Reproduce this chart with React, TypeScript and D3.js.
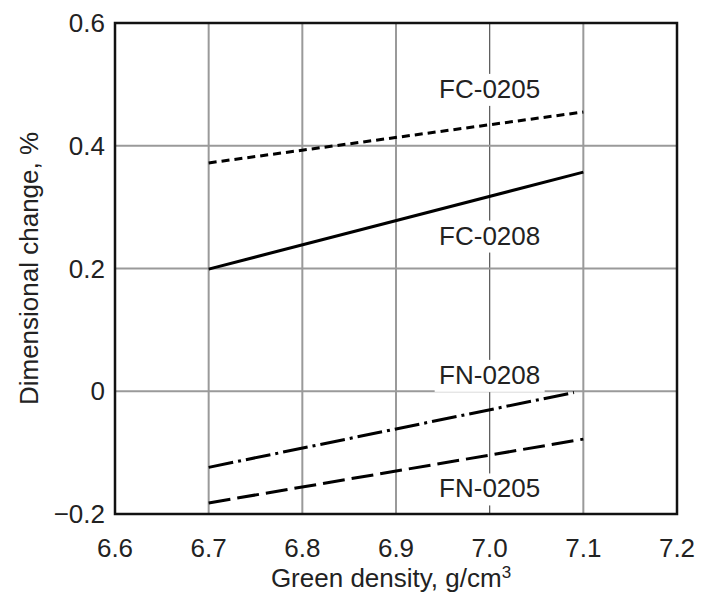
import React from "react";
import * as d3 from "d3";

const xTicks = [6.6, 6.7, 6.8, 6.9, 7.0, 7.1, 7.2];
const yTicks = [-0.2, 0, 0.2, 0.4, 0.6];
const yTickLabels = ["\u22120.2", "0", "0.2", "0.4", "0.6"];

const fc0205X = [6.7, 7.1];
const fc0205Y = [0.372, 0.455];
const fc0208X = [6.7, 7.1];
const fc0208Y = [0.199, 0.357];
const fn0208X = [6.7, 7.09];
const fn0208Y = [-0.124, -0.002];
const fn0205X = [6.7, 7.1];
const fn0205Y = [-0.182, -0.078];

const labelNames = ["FC-0205", "FC-0208", "FN-0208", "FN-0205"];
const labelX = [7.0, 7.0, 7.0, 7.0];
const labelY = [0.478, 0.239, 0.012, -0.173];

const W = 701;
const H = 598;
const M = { left: 115, right: 24, top: 23, bottom: 84 };
const FONT = "'Liberation Sans', Arial, Helvetica, sans-serif";

export default function App() {
  const x = d3.scaleLinear().domain([6.6, 7.2]).range([M.left, W - M.right]);
  const y = d3.scaleLinear().domain([-0.2, 0.6]).range([H - M.bottom, M.top]);
  const line = d3
    .line<[number, number]>()
    .x((d) => x(d[0]))
    .y((d) => y(d[1]));
  const pts = (xs: number[], ys: number[]) =>
    xs.map((v, i) => [v, ys[i]] as [number, number]);

  const series = [
    { d: pts(fc0205X, fc0205Y), dash: "8,5" },
    { d: pts(fc0208X, fc0208Y), dash: "none" },
    { d: pts(fn0208X, fn0208Y), dash: "25,5,3,5" },
    { d: pts(fn0205X, fn0205Y), dash: "22,7" },
  ];

  const fs = 26;
  return (
    <svg
      width={W}
      height={H}
      style={{ position: "absolute", left: 0, top: 0, background: "#fff" }}
      fontFamily={FONT}
    >
      <rect x={0} y={0} width={W} height={H} fill="#fff" />
      {xTicks.slice(1, -1).map((t) => (
        <line
          key={"vx" + t}
          x1={x(t)}
          x2={x(t)}
          y1={y(0.6)}
          y2={y(-0.2)}
          stroke={t === 7.0 ? "#555" : "#9a9a9a"}
          strokeWidth={t === 7.0 ? 1.2 : 2}
        />
      ))}
      {yTicks.slice(1, -1).map((t) => (
        <line
          key={"hy" + t}
          x1={x(6.6)}
          x2={x(7.2)}
          y1={y(t)}
          y2={y(t)}
          stroke="#9a9a9a"
          strokeWidth={2}
        />
      ))}
      {labelNames.map((n, i) => (
        <g key={n}>
          <rect
            x={x(labelX[i]) - 55}
            y={y(labelY[i]) - 24}
            width={110}
            height={32}
            fill="#fff"
          />
          <text
            x={x(labelX[i])}
            y={y(labelY[i])}
            textAnchor="middle"
            fontSize={fs}
            fill="#222"
          >
            {n}
          </text>
        </g>
      ))}
      {series.map((s, i) => (
        <path
          key={"s" + i}
          d={line(s.d) || ""}
          fill="none"
          stroke="#000"
          strokeWidth={3}
          strokeDasharray={s.dash}
        />
      ))}
      <rect
        x={x(6.6)}
        y={y(0.6)}
        width={x(7.2) - x(6.6)}
        height={y(-0.2) - y(0.6)}
        fill="none"
        stroke="#111"
        strokeWidth={2.5}
      />
      {yTicks.map((t, i) => (
        <text
          key={"yt" + t}
          x={x(6.6) - 10}
          y={y(t) + 9}
          textAnchor="end"
          fontSize={fs}
          fill="#222"
        >
          {yTickLabels[i]}
        </text>
      ))}
      {xTicks.map((t) => (
        <text
          key={"xt" + t}
          x={x(t)}
          y={y(-0.2) + 43}
          textAnchor="middle"
          fontSize={fs}
          fill="#222"
        >
          {t.toFixed(1)}
        </text>
      ))}
      <text
        x={(x(6.6) + x(7.2)) / 2 - 5}
        y={587}
        textAnchor="middle"
        fontSize={fs}
        fill="#222"
      >
        Green density, g/cm
        <tspan dy={-9} fontSize={17}>
          3
        </tspan>
      </text>
      <text
        transform={`translate(38, ${(y(-0.2) + y(0.6)) / 2}) rotate(-90)`}
        textAnchor="middle"
        fontSize={fs}
        fill="#222"
      >
        Dimensional change, %
      </text>
    </svg>
  );
}
